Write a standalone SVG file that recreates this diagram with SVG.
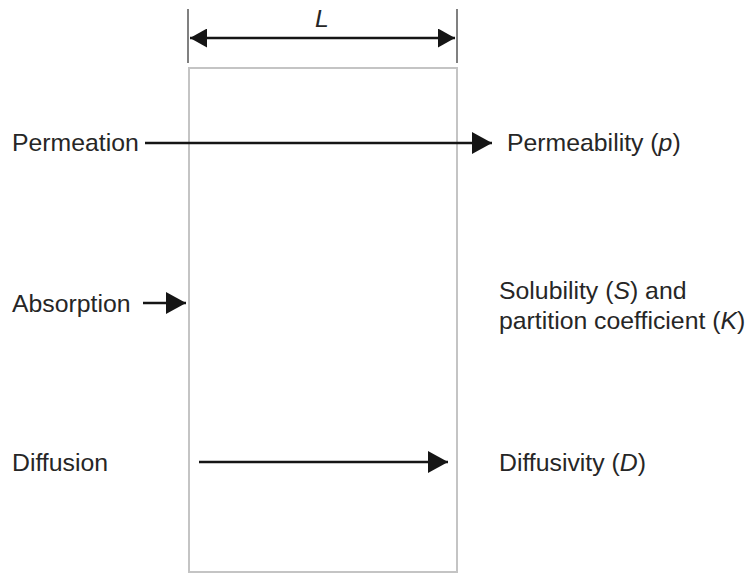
<svg xmlns="http://www.w3.org/2000/svg" width="749" height="574" viewBox="0 0 749 574">
<style>
.t{font-family:"Liberation Sans",Arial,sans-serif;font-size:24.8px;fill:#262626}
.i{font-style:italic}
.ln{stroke:#151515;stroke-width:2.5;fill:none}
.tick{stroke:#808080;stroke-width:2}
.box{stroke:#c4c4c4;stroke-width:2;fill:#fff}
</style>
<defs>
<marker id="ah" markerUnits="userSpaceOnUse" markerWidth="20" markerHeight="22" refX="20" refY="11" orient="auto-start-reverse">
<path d="M0,0 L20,11 L0,22 z" fill="#151515"/>
</marker>
<marker id="ahs" markerUnits="userSpaceOnUse" markerWidth="17" markerHeight="19" refX="17" refY="9.5" orient="auto-start-reverse">
<path d="M0,0 L17,9.5 L0,19 z" fill="#151515"/>
</marker>
</defs>
<g id="membrane">
<rect class="box" x="189" y="68" width="268" height="504"/>
</g>
<g id="dimension">
<line class="tick" x1="188" y1="9" x2="188" y2="63"/>
<line class="tick" x1="457" y1="9" x2="457" y2="63"/>
<line class="ln" x1="190" y1="38" x2="455" y2="38" marker-start="url(#ahs)" marker-end="url(#ahs)"/>
<text class="t i" x="322" y="27" text-anchor="middle">L</text>
</g>
<g id="permeation">
<text class="t" x="12" y="151">Permeation</text>
</g>
<g id="permeability">
<text class="t" x="507" y="151">Permeability (<tspan class="i">p</tspan>)</text>
</g>
<g id="absorption">
<text class="t" x="12" y="312">Absorption</text>
</g>
<g id="solubility">
<text class="t" x="499" y="299">Solubility (<tspan class="i">S</tspan>) and</text>
<text class="t" x="499" y="329">partition coefficient (<tspan class="i">K</tspan>)</text>
</g>
<g id="diffusion">
<text class="t" x="12" y="471">Diffusion</text>
</g>
<g id="diffusivity">
<text class="t" x="499" y="471">Diffusivity (<tspan class="i">D</tspan>)</text>
</g>
<g id="connectors">
<line class="ln" x1="145" y1="143" x2="492" y2="143" marker-end="url(#ah)"/>
<line class="ln" x1="143" y1="303" x2="186" y2="303" marker-end="url(#ah)"/>
<line class="ln" x1="199" y1="462" x2="448" y2="462" marker-end="url(#ah)"/>
</g>
</svg>
